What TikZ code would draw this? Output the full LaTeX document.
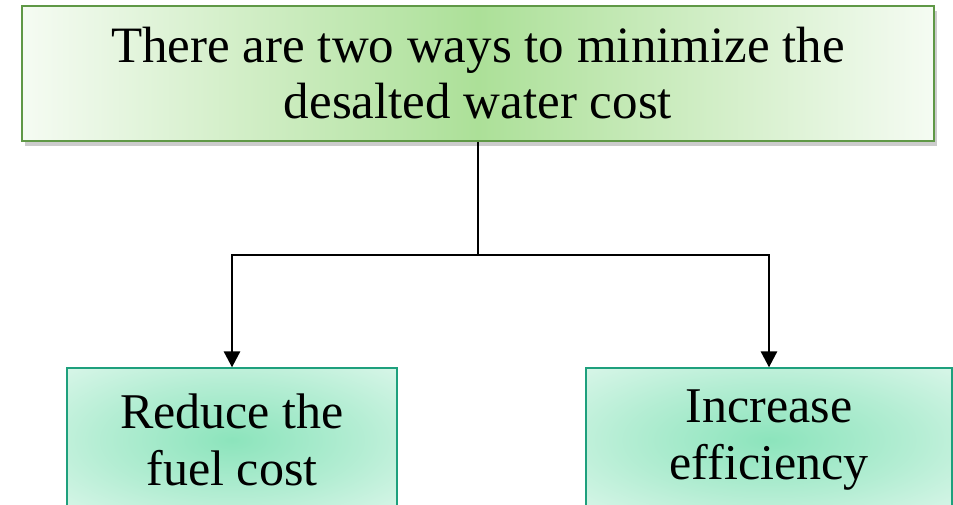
\documentclass[tikz,border=0pt]{standalone}
\usepackage{fontspec}
\setmainfont{Liberation Serif}
\usepackage{tikz}
\usetikzlibrary{positioning, arrows.meta, shadows}

% Glow inside the option boxes
\definecolor{tealcentro}{RGB}{140,228,188}
\pgfdeclareradialshading{brillo}{\pgfpoint{0bp}{0bp}}{color(0bp)=(tealcentro); color(20bp)=(tealcentro!65); color(48bp)=(tealcentro!10); color(72bp)=(white)}

\begin{document}
\begin{tikzpicture}[x=1pt, y=-1pt]

% Define colors for the boxes
\definecolor{verdeborde}{RGB}{95,152,70}
\definecolor{verdecentro}{RGB}{172,224,152}
\definecolor{tealborde}{RGB}{30,160,125}

\tikzset{
  causa/.style={draw=verdeborde, line width=1.6pt, left color=verdecentro!12, right color=verdecentro!12, middle color=verdecentro,
    minimum width=912pt, minimum height=135pt, align=center, font=\fontsize{51}{56}\selectfont,
    drop shadow={shadow xshift=3pt, shadow yshift=-5pt, opacity=0.4}},
  opcion/.style={draw=tealborde, line width=1.3pt, shading=brillo,
    minimum height=144pt, align=center, font=\fontsize{50}{57}\selectfont},
  flecha/.style={line width=2.8pt, -{Triangle[width=16pt, length=16pt]}}
}

% Canvas
\clip (0,0) rectangle (953,504);

% Main box
\node[causa] (costo) at (478,73.5) {There are two ways to minimize the\\desalted water cost};

% Options
\node[opcion, minimum width=330pt] (combustible) at (232,440) {Reduce the\\fuel cost};
\node[opcion, minimum width=366pt] (eficiencia) at (769,440) {Increase\\efficiency};

% Connectors
\coordinate (rama) at (478,255);
\draw[line width=2.8pt] (costo.south) -- (rama);
\draw[flecha] (rama) -| (combustible.north);
\draw[flecha] (rama) -| (eficiencia.north);

\end{tikzpicture}
\end{document}
